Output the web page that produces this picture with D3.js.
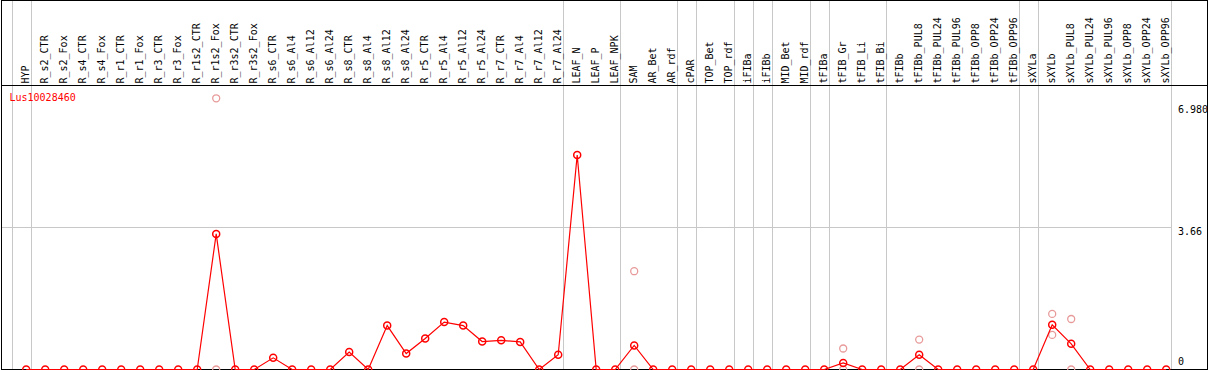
<!DOCTYPE html>
<html>
<head>
<meta charset="utf-8">
<script src="https://cdn.jsdelivr.net/npm/d3@7"></script>
<style>
  body { margin: 0; background: #fff; }
  svg { display: block; }
  text { font-family: 'DejaVu Sans Mono', monospace; font-size: 10px; }
</style>
</head>
<body>
<script>
const geneName = 'Lus10028460'

const categories = [
  'HYP',
  'R_s2_CTR', 'R_s2_Fox', 'R_s4_CTR', 'R_s4_Fox', 'R_r1_CTR', 'R_r1_Fox', 'R_r3_CTR', 'R_r3_Fox',
  'R_r1s2_CTR', 'R_r1s2_Fox', 'R_r3s2_CTR', 'R_r3s2_Fox',
  'R_s6_CTR', 'R_s6_Al4', 'R_s6_Al12', 'R_s6_Al24', 'R_s8_CTR', 'R_s8_Al4', 'R_s8_Al12', 'R_s8_Al24',
  'R_r5_CTR', 'R_r5_Al4', 'R_r5_Al12', 'R_r5_Al24', 'R_r7_CTR', 'R_r7_Al4', 'R_r7_Al12', 'R_r7_Al24',
  'LEAF_N', 'LEAF_P', 'LEAF_NPK',
  'SAM', 'AR_Bet', 'AR_rdf',
  'cPAR',
  'TOP_Bet', 'TOP_rdf',
  'iFIBa',
  'iFIBb',
  'MID_Bet', 'MID_rdf',
  'tFIBa',
  'tFIB_Gr', 'tFIB_Li', 'tFIB_Bi',
  'tFIBb', 'tFIBb_PUL8', 'tFIBb_PUL24', 'tFIBb_PUL96', 'tFIBb_OPP8', 'tFIBb_OPP24', 'tFIBb_OPP96',
  'sXYLa',
  'sXYLb', 'sXYLb_PUL8', 'sXYLb_PUL24', 'sXYLb_PUL96', 'sXYLb_OPP8', 'sXYLb_OPP24', 'sXYLb_OPP96'
]

// group id of each category (gridline drawn where the group changes)
const groups = [
  'HYP',
  'R', 'R', 'R', 'R', 'R', 'R', 'R', 'R', 'R', 'R', 'R', 'R', 'R', 'R',
  'R', 'R', 'R', 'R', 'R', 'R', 'R', 'R', 'R', 'R', 'R', 'R', 'R', 'R',
  'LEAF', 'LEAF', 'LEAF',
  'SAM', 'SAM', 'SAM',
  'cPAR',
  'TOP', 'TOP',
  'iFIBa',
  'iFIBb',
  'MID', 'MID',
  'tFIBa',
  'tFIB', 'tFIB', 'tFIB',
  'tFIBb', 'tFIBb', 'tFIBb', 'tFIBb', 'tFIBb', 'tFIBb', 'tFIBb',
  'sXYLa',
  'sXYLb', 'sXYLb', 'sXYLb', 'sXYLb', 'sXYLb', 'sXYLb', 'sXYLb'
]

const means = [
  0,
  0, 0, 0, 0, 0, 0, 0, 0,
  0, 3.49, 0, 0,
  0.30, 0, 0, 0, 0.45, 0, 1.13, 0.41,
  0.80, 1.22, 1.13, 0.72, 0.75, 0.71, 0, 0.38,
  5.52, 0, 0,
  0.62, 0, 0,
  0,
  0, 0,
  0,
  0,
  0, 0,
  0,
  0.17, 0, 0,
  0, 0.38, 0, 0, 0, 0, 0,
  0,
  1.15, 0.66, 0, 0, 0, 0, 0
]

// individual replicates that differ from the mean
const repCategories = ['R_r1s2_Fox', 'R_r1s2_Fox', 'SAM', 'SAM', 'tFIB_Gr', 'tFIB_Gr',
  'tFIBb_PUL8', 'tFIBb_PUL8', 'sXYLb', 'sXYLb', 'sXYLb_PUL8', 'sXYLb_PUL8']
const repValues = [6.98, 0, 2.53, 0, 0.54, 0, 0.77, 0, 1.43, 0.89, 1.30, 0]

const tickValues = [0, 3.66, 6.98]
const tickLabels = ['0', '3.66', '6.980']

const W = 1209
const H = 370
const LABEL_BOTTOM = 85.5
const X_FIRST = 26.2
const STEP = 19
const LINE_RED = '#ff0000'
const REP_PINK = '#e89a9a'
const GRID = '#c8c8c8'

const svg = d3.select('body')
  .append('svg')
  .attr('width', W)
  .attr('height', H)

const x = d3.scalePoint()
  .domain(categories)
  .range([X_FIRST, X_FIRST + STEP * (categories.length - 1)])

const y = d3.scaleLinear()
  .domain([0, d3.max(repValues.concat(means))])
  .range([369.5, 98.3])

// vertical group separators
const seps = [x(categories[0]) - STEP]
groups.forEach((g, i) => {
  if (i === groups.length - 1 || groups[i + 1] !== g) seps.push(x(categories[i]))
})
svg.append('g')
  .selectAll('line')
  .data(seps)
  .enter()
    .append('line')
    .attr('x1', d => Math.round(d + 4.3) + 0.5)
    .attr('x2', d => Math.round(d + 4.3) + 0.5)
    .attr('y1', 0)
    .attr('y2', H)
    .attr('stroke', GRID)
    .attr('stroke-width', 1)

// horizontal grid at inner ticks
svg.append('g')
  .selectAll('line')
  .data(tickValues.slice(1, -1))
  .enter()
    .append('line')
    .attr('x1', 1)
    .attr('x2', 1172)
    .attr('y1', d => Math.round(y(d)) + 0.5)
    .attr('y2', d => Math.round(y(d)) + 0.5)
    .attr('stroke', GRID)

// frame
svg.append('rect')
  .attr('x', 1.5)
  .attr('y', 0.5)
  .attr('width', W - 3)
  .attr('height', 369)
  .attr('fill', 'none')
  .attr('stroke', '#000')
svg.append('line')
  .attr('x1', 1).attr('x2', W - 1)
  .attr('y1', LABEL_BOTTOM).attr('y2', LABEL_BOTTOM)
  .attr('stroke', '#000')

// category labels
svg.append('g')
  .selectAll('text')
  .data(categories)
  .enter()
    .append('text')
    .attr('transform', d => `translate(${x(d) + 2.5}, ${LABEL_BOTTOM - 2}) rotate(-90)`)
    .attr('fill', '#000')
    .text(d => d)

// y tick labels
svg.append('g')
  .selectAll('text')
  .data(tickValues)
  .enter()
    .append('text')
    .attr('x', 1178)
    .attr('y', d => Math.min(Math.max(y(d), 105) + 8, 365))
    .attr('fill', '#000')
    .text((d, i) => tickLabels[i])

// gene name
svg.append('text')
  .attr('x', 9.5)
  .attr('y', 101)
  .attr('fill', LINE_RED)
  .text(geneName)

// replicates
svg.append('g')
  .selectAll('circle')
  .data(repValues)
  .enter()
    .append('circle')
    .attr('cx', (d, i) => x(repCategories[i]))
    .attr('cy', d => y(d))
    .attr('r', 3.5)
    .attr('fill', 'none')
    .attr('stroke', REP_PINK)
    .attr('stroke-width', 1.3)

// mean line
const line = d3.line()
  .x((d, i) => x(categories[i]))
  .y(d => y(d))
svg.append('path')
  .datum(means)
  .attr('d', line)
  .attr('fill', 'none')
  .attr('stroke', LINE_RED)
  .attr('stroke-width', 1.2)

svg.append('g')
  .selectAll('circle')
  .data(means)
  .enter()
    .append('circle')
    .attr('cx', (d, i) => x(categories[i]))
    .attr('cy', d => y(d))
    .attr('r', 3.5)
    .attr('fill', 'none')
    .attr('stroke', LINE_RED)
    .attr('stroke-width', 1.5)
</script>
</body>
</html>
